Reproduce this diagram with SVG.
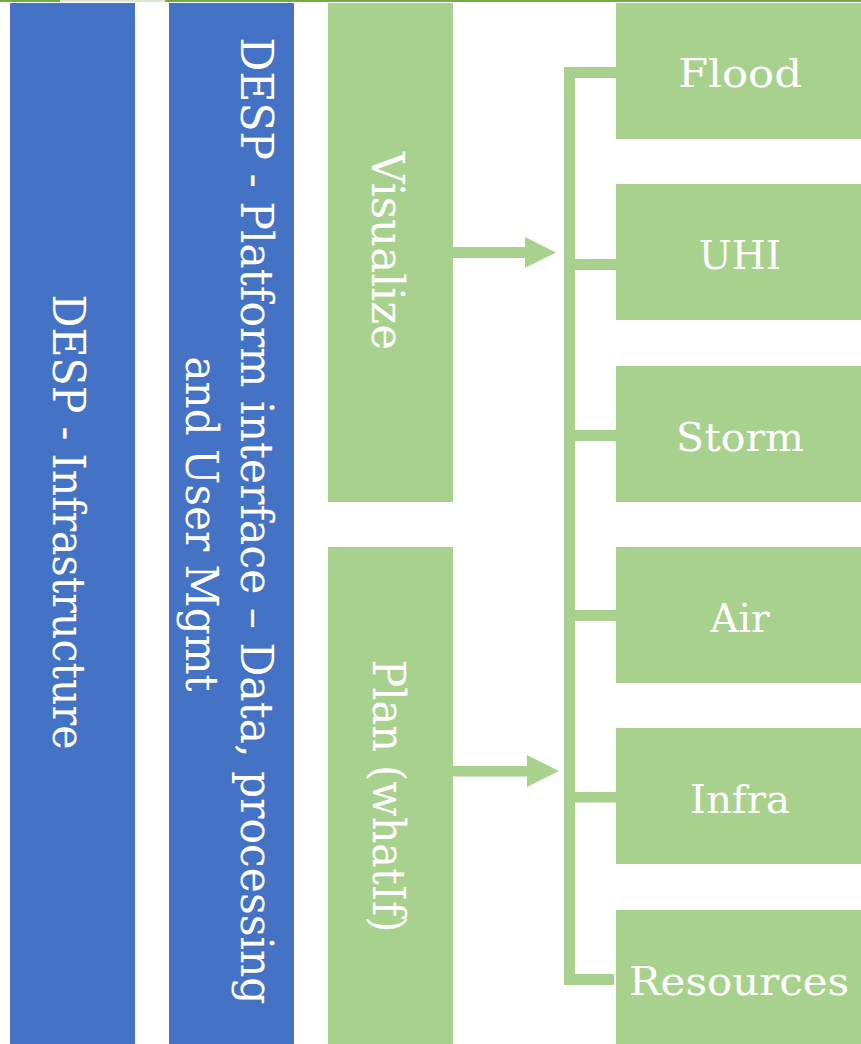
<svg xmlns="http://www.w3.org/2000/svg" width="861" height="1044" viewBox="0 0 861 1044">
<style>
.blue{fill:#4472C4}
.green{fill:#A9D18E}
.conn{fill:#A9D18E}
.lbl{fill:#FFFFFF;font-family:"DejaVu Serif","Liberation Serif",serif}
.v{font-size:44px}
.h{font-size:39px;text-anchor:middle}
</style>
<rect x="0" y="0" width="861" height="1044" fill="#FFFFFF"/>
<g id="topline">
<rect x="0" y="0" width="60" height="2" fill="#70AD47"/>
<rect x="60" y="0" width="105" height="2" fill="#70AD47" opacity="0.25"/>
<rect x="165" y="0" width="696" height="2" fill="#70AD47"/>
</g>
<g id="node-infrastructure">
<rect class="blue" x="10" y="3" width="125" height="1041"/>
<text class="lbl v" transform="translate(53,522) rotate(90)" text-anchor="middle" textLength="455" lengthAdjust="spacingAndGlyphs">DESP - Infrastructure</text>
</g>
<g id="node-platform">
<rect class="blue" x="169" y="3" width="125" height="1041"/>
<text class="lbl v" transform="translate(241,521) rotate(90)" text-anchor="middle" textLength="967" lengthAdjust="spacingAndGlyphs">DESP - Platform interface – Data, processing</text>
<text class="lbl v" transform="translate(186,524) rotate(90)" text-anchor="middle" textLength="335" lengthAdjust="spacingAndGlyphs">and User Mgmt</text>
</g>
<g id="node-visualize">
<rect class="green" x="328" y="3" width="125" height="499"/>
<text class="lbl v" transform="translate(372,251) rotate(90)" text-anchor="middle" textLength="198" lengthAdjust="spacingAndGlyphs">Visualize</text>
</g>
<g id="node-plan">
<rect class="green" x="328" y="547" width="125" height="497"/>
<text class="lbl v" transform="translate(373,796) rotate(90)" text-anchor="middle" textLength="273" lengthAdjust="spacingAndGlyphs">Plan (whatIf)</text>
</g>
<g id="node-flood">
<rect class="green" x="616" y="3" width="245" height="136"/>
<text class="lbl h" x="740" y="87" textLength="124" lengthAdjust="spacingAndGlyphs">Flood</text>
</g>
<g id="node-uhi">
<rect class="green" x="616" y="184" width="245" height="136"/>
<text class="lbl h" x="740" y="269">UHI</text>
</g>
<g id="node-storm">
<rect class="green" x="616" y="366" width="245" height="136"/>
<text class="lbl h" x="740" y="451" textLength="128" lengthAdjust="spacingAndGlyphs">Storm</text>
</g>
<g id="node-air">
<rect class="green" x="616" y="547" width="245" height="136"/>
<text class="lbl h" x="740" y="632">Air</text>
</g>
<g id="node-infra">
<rect class="green" x="616" y="728" width="245" height="136"/>
<text class="lbl h" x="740" y="813" textLength="100" lengthAdjust="spacingAndGlyphs">Infra</text>
</g>
<g id="node-resources">
<rect class="green" x="616" y="910" width="245" height="134"/>
<text class="lbl h" x="739" y="995" textLength="220" lengthAdjust="spacingAndGlyphs">Resources</text>
</g>
<g id="connectors">
<rect class="conn" x="453" y="247" width="73" height="11"/>
<polygon class="conn" points="525,237 556,252.5 525,268"/>
<rect class="conn" x="453" y="766" width="75" height="10.5"/>
<polygon class="conn" points="527,755 559,771 527,787"/>
<rect class="conn" x="564" y="67" width="11" height="918"/>
<rect class="conn" x="564" y="67" width="52" height="11"/>
<rect class="conn" x="564" y="259" width="52" height="11"/>
<rect class="conn" x="564" y="430" width="52" height="11"/>
<rect class="conn" x="564" y="610" width="52" height="11"/>
<rect class="conn" x="564" y="792" width="52" height="10.5"/>
<rect class="conn" x="564" y="974" width="50" height="11"/>
</g>
</svg>
